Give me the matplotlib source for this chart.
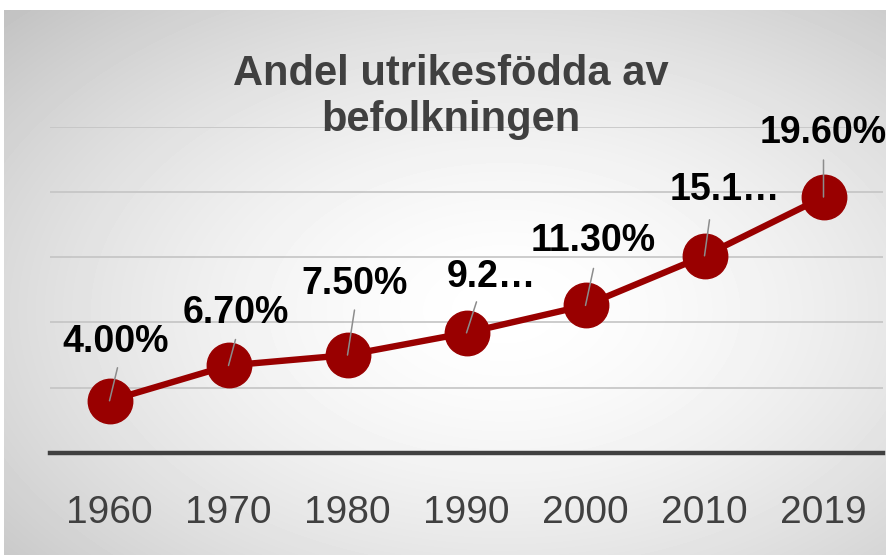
import numpy as np
import matplotlib
matplotlib.use("Agg")
import matplotlib.pyplot as plt

plt.rcParams["font.family"] = ["Liberation Sans", "DejaVu Sans"]

years = ["1960", "1970", "1980", "1990", "2000", "2010", "2019"]
share = [4.0, 6.7, 7.5, 9.2, 11.3, 15.1, 19.6]
labels = ["4.00%", "6.70%", "7.50%", "9.2…", "11.30%", "15.1…", "19.60%"]
title_lines = ["Andel utrikesfödda av", "befolkningen"]

# label placement in pixels relative to the point: (text dx, text dy, leader dx, leader dy)
label_pos = [(6, 49, 8, 33), (7, 42, 7, 26), (7, 61, 7, 45), (25, 46, 10, 31),
             (8, 54, 8, 37), (20, 56, 5, 36), (0, 54, 0, 37)]

W, H = 887, 555
fig = plt.figure(figsize=(W / 100, H / 100), dpi=100)

# radial grey background
bg = fig.add_axes([4 / W, 0, (W - 4) / W, (H - 10) / H], zorder=-2)
yy, xx = np.mgrid[0:H - 10, 0:W - 4]
dx = (xx - 500) / 443.0
dy = (yy - 300) / 277.0
d = np.sqrt(dx ** 2 + dy ** 2) / 1.56
val = 1 - 0.24 * np.clip(d, 0, 1) ** 1.6
bg.imshow(val, cmap="gray", vmin=0, vmax=1, aspect="auto", interpolation="bilinear")
bg.axis("off")

ax = fig.add_axes([50 / W, (H - 453) / H, (883 - 50) / W, (453 - 126.5) / H])
ax.set_facecolor("none")
x = np.arange(len(years))
ax.plot(x, share, color="#990000", lw=4.6, marker="o", ms=32, zorder=3,
        solid_capstyle="round")
ax.set_xlim(-0.5, len(years) - 0.5)
ax.set_ylim(0, 25)
ax.set_yticks([0, 5, 10, 15, 20, 25])
ax.yaxis.grid(True, color="#c4c4c4", lw=1.2)
ax.set_axisbelow(True)
ax.tick_params(axis="y", left=False, labelleft=False)
ax.set_xticks(x)
ax.set_xticklabels(years, fontsize=28, color="#404040")
ax.tick_params(axis="x", length=0, pad=30)
for s in ["left", "right", "top"]:
    ax.spines[s].set_visible(False)
ax.spines["bottom"].set_color("#404040")
ax.spines["bottom"].set_linewidth(3.2)
ax.spines["bottom"].set_zorder(4)

k = 0.72  # px -> pt
for i, (v, lab) in enumerate(zip(share, labels)):
    tdx, tdy, ldx, ldy = label_pos[i]
    ax.annotate("", xy=(i, v), xytext=(ldx * k, ldy * k), textcoords="offset points",
                arrowprops=dict(arrowstyle="-", color="#8c8c8c", lw=1.1,
                                shrinkA=0, shrinkB=0), zorder=5)
    ax.annotate(lab, xy=(i, v), xytext=(tdx * k, tdy * k), textcoords="offset points",
                ha="center", va="baseline", fontsize=27, fontweight="bold",
                color="black", zorder=6)

fig.text(450.5 / W, 1 - 85 / H, title_lines[0], ha="center", va="baseline",
         fontsize=30, fontweight="bold", color="#404040")
fig.text(450.5 / W, 1 - 131 / H, title_lines[1], ha="center", va="baseline",
         fontsize=30, fontweight="bold", color="#404040")

fig.savefig("out.png", dpi=100)
